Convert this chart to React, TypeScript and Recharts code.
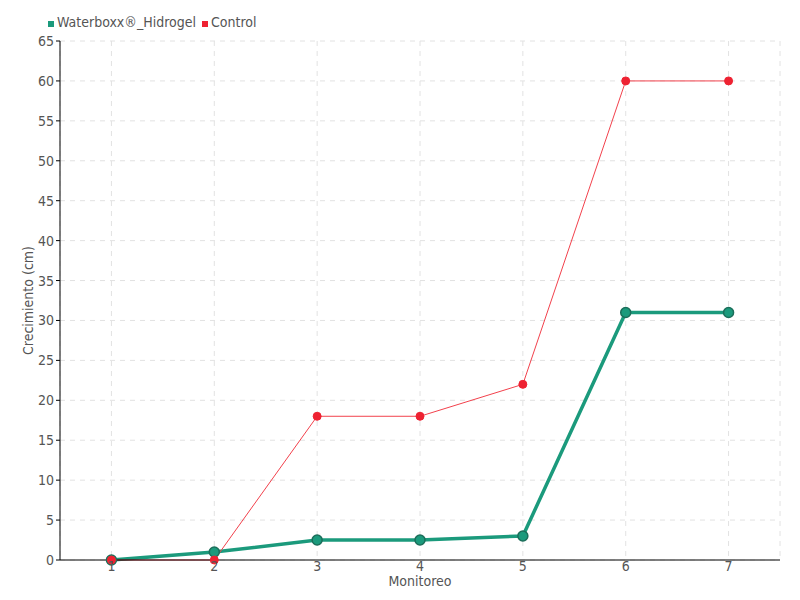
import { CartesianGrid, Legend, Line, LineChart, XAxis, YAxis } from "recharts";

const monitoreo = ["1", "2", "3", "4", "5", "6", "7"];
const waterboxx = [0, 1, 2.5, 2.5, 3, 31, 31];
const control = [0, 0, 18, 18, 22, 60, 60];
const yTicks = [0, 5, 10, 15, 20, 25, 30, 35, 40, 45, 50, 55, 60, 65];

const FONT = "'Liberation Sans Narrow', 'DejaVu Sans Condensed', sans-serif";
const GREEN = "#1b9a7c";
const RED = "#ee2232";

const legendItems = [
  { name: "Waterboxx®_Hidrogel", color: GREEN },
  { name: "Control", color: RED },
];

function TopLegend() {
  return (
    <div style={{ display: "flex", gap: 6, fontFamily: FONT, fontSize: 14, color: "#555" }}>
      {legendItems.map((item) => (
        <span key={item.name} style={{ display: "flex", alignItems: "center" }}>
          <span style={{ width: 6, height: 6, background: item.color, marginRight: 3, marginTop: 4 }} />
          {item.name}
        </span>
      ))}
    </div>
  );
}

export default function App() {
  const data = monitoreo.map((m, i) => ({ name: m, Waterboxx: waterboxx[i], Control: control[i] }));
  return (
    <div style={{ position: "absolute", left: 0, top: 0, width: 800, height: 600, background: "#fff" }}>
      <LineChart width={800} height={600} data={data} margin={{ top: 25, right: 20, left: 0, bottom: 0 }}>
        <CartesianGrid stroke="#e2e2e2" strokeDasharray="5 5" />
        <XAxis
          dataKey="name"
          scale="band"
          height={40}
          tickSize={1}
          tickLine={false}
          tickMargin={0}
          axisLine={{ stroke: "#000" }}
          tick={{ fill: "#555", fontSize: 14, fontFamily: FONT }}
          label={{ value: "Monitoreo", position: "insideBottom", offset: 14, fill: "#555", fontSize: 14, fontFamily: FONT }}
        />
        <YAxis
          width={60}
          domain={[0, 65]}
          ticks={yTicks}
          interval={0}
          tickSize={4}
          tickMargin={2}
          axisLine={{ stroke: "#000" }}
          tickLine={{ stroke: "#000" }}
          tick={{ fill: "#555", fontSize: 14, fontFamily: FONT }}
          label={{ value: "Crecimiento (cm)", angle: -90, position: "insideLeft", offset: 28, fill: "#555", fontSize: 14, fontFamily: FONT, style: { textAnchor: "middle" } }}
        />
        <Legend
          verticalAlign="top"
          align="left"
          content={<TopLegend />}
          wrapperStyle={{ position: "absolute", top: 14, left: 48, width: "auto" }}
        />
        <Line
          dataKey="Waterboxx"
          name="Waterboxx®_Hidrogel"
          stroke={GREEN}
          strokeWidth={3.5}
          dot={{ r: 5, fill: GREEN, stroke: "#1b6e5a", strokeWidth: 1.5 }}
          isAnimationActive={false}
        />
        <Line
          dataKey="Control"
          stroke="#f2414c"
          strokeWidth={1}
          dot={{ r: 4, fill: RED, stroke: RED, strokeWidth: 1 }}
          isAnimationActive={false}
        />
      </LineChart>
    </div>
  );
}
